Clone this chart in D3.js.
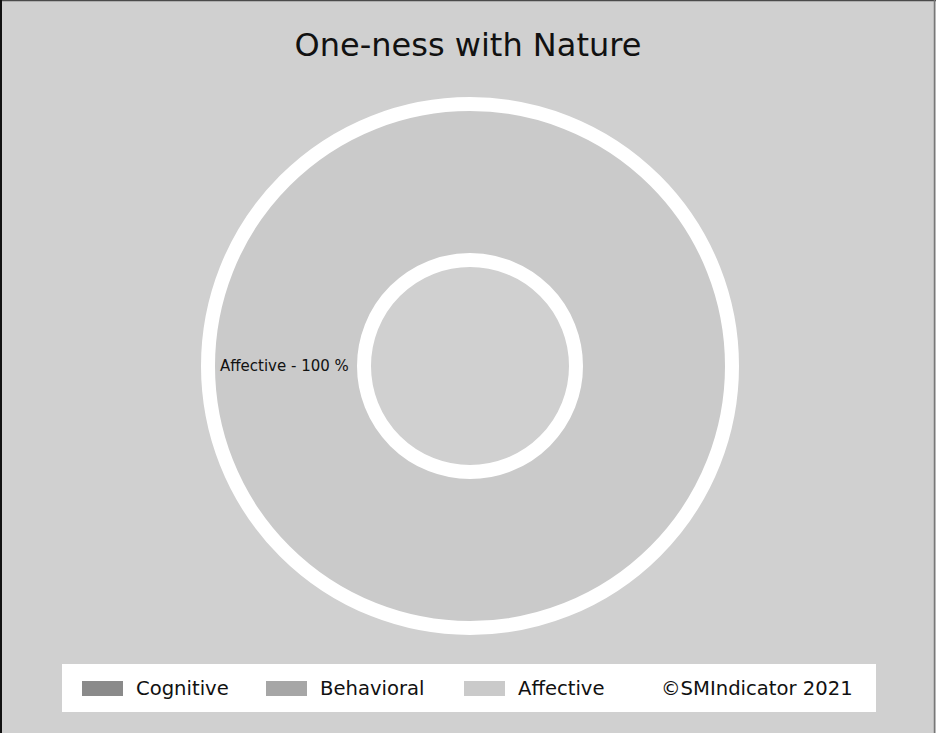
<!DOCTYPE html>
<html>
<head>
<meta charset="utf-8">
<script src="https://cdn.jsdelivr.net/npm/d3@7"></script>
<style>
  body { margin: 0; background: #fff; }
  svg { display: block; font-family: "DejaVu Sans", Verdana, sans-serif; }
</style>
</head>
<body>
<div id="chart"></div>
<script>
// data
var categories = ["Cognitive", "Behavioral", "Affective"];
var values = [0, 0, 100];
var colors = ["#8a8a8a", "#a6a6a6", "#cacaca"];
var title = "One-ness with Nature";
var credit = "\u00A9SMIndicator 2021";

var width = 936, height = 733;
var cx = 470, cy = 366;

var svg = d3.select("#chart").append("svg")
  .attr("width", width)
  .attr("height", height);

// background + frame
svg.append("rect").attr("width", width).attr("height", height).attr("fill", "#d0d0d0");
svg.append("line").attr("x1", 0).attr("x2", width).attr("y1", 0.5).attr("y2", 0.5)
  .attr("stroke", "#4a4a4a").attr("stroke-width", 1.5);
svg.append("line").attr("x1", 1).attr("x2", 1).attr("y1", 0).attr("y2", height)
  .attr("stroke", "#111").attr("stroke-width", 2);
svg.append("line").attr("x1", width - 1.5).attr("x2", width - 1.5).attr("y1", 0).attr("y2", height)
  .attr("stroke", "#777").attr("stroke-width", 1.5);

svg.append("text")
  .attr("x", 468).attr("y", 56)
  .attr("text-anchor", "middle")
  .attr("font-size", 32)
  .attr("fill", "#111")
  .text(title);

var data = categories.map(function(c, i){ return {name: c, value: values[i], color: colors[i]}; });

var pie = d3.pie().sort(null).value(function(d){ return d.value; });
var arc = d3.arc().innerRadius(106).outerRadius(262);

var g = svg.append("g").attr("transform", "translate(" + cx + "," + cy + ")");

g.selectAll("path")
  .data(pie(data).filter(function(d){ return d.data.value > 0; }))
  .enter()
  .append("path")
  .attr("d", arc)
  .attr("fill", function(d){ return d.data.color; })
  .attr("stroke", "#fff")
  .attr("stroke-width", 14);

// slice label
g.selectAll(".lbl")
  .data(data.filter(function(d){ return d.value > 0; }))
  .enter()
  .append("text")
  .attr("class", "lbl")
  .attr("x", -250).attr("y", 5)
  .attr("font-size", 15)
  .attr("fill", "#111")
  .text(function(d){ return d.name + " - " + d.value + " %"; });

// legend
var lg = svg.append("g");
lg.append("rect").attr("x", 62).attr("y", 664).attr("width", 814).attr("height", 48).attr("fill", "#fff");

var legX = [82, 266, 464];
var item = lg.selectAll(".item")
  .data(data)
  .enter()
  .append("g")
  .attr("transform", function(d, i){ return "translate(" + legX[i] + ",681)"; });

item.append("rect").attr("width", 41).attr("height", 15)
  .attr("fill", function(d){ return d.color; });
item.append("text").attr("x", 54).attr("y", 14)
  .attr("font-size", 19.6).attr("fill", "#111")
  .text(function(d){ return d.name; });

lg.append("text").attr("x", 661).attr("y", 695)
  .attr("font-size", 19.6).attr("fill", "#111")
  .text(credit);
</script>
</body>
</html>
